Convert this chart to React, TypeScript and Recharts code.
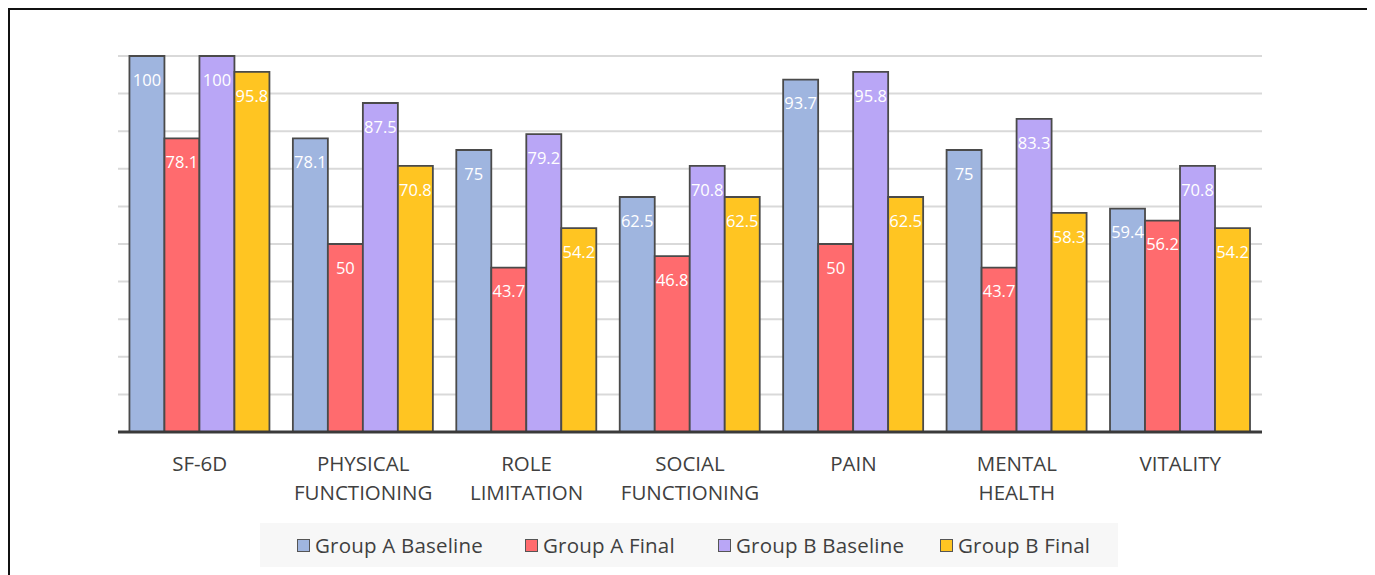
import React from 'react';
import { BarChart, Bar, XAxis, YAxis, CartesianGrid, LabelList, Legend } from 'recharts';

const categories = ['SF-6D', 'PHYSICAL FUNCTIONING', 'ROLE LIMITATION', 'SOCIAL FUNCTIONING', 'PAIN', 'MENTAL HEALTH', 'VITALITY'];
const groupABaseline = [100, 78.1, 75, 62.5, 93.7, 75, 59.4];
const groupAFinal = [78.1, 50, 43.7, 46.8, 50, 43.7, 56.2];
const groupBBaseline = [100, 87.5, 79.2, 70.8, 95.8, 83.3, 70.8];
const groupBFinal = [95.8, 70.8, 54.2, 62.5, 62.5, 58.3, 54.2];
const yTicks = [0, 10, 20, 30, 40, 50, 60, 70, 80, 90, 100];

const seriesNames = ['Group A Baseline', 'Group A Final', 'Group B Baseline', 'Group B Final'];
const seriesKeys = ['aBase', 'aFinal', 'bBase', 'bFinal'];
const seriesColors = ['#9FB5DF', '#FF6B6E', '#B9A6F6', '#FFC522'];
const legendItemWidths = [228, 193, 222, 170];

const data = categories.map((c, i) => ({
  name: c,
  aBase: groupABaseline[i],
  aFinal: groupAFinal[i],
  bBase: groupBBaseline[i],
  bFinal: groupBFinal[i],
}));

const FONT = '"Open Sans", sans-serif';

const CategoryTick = (props: any) => {
  const { x, y, payload } = props;
  const words = String(payload.value).split(' ');
  return (
    <text x={x} y={y} textAnchor="middle" fill="#404040" fontSize={20.5} fontFamily={FONT}>
      {words.map((w: string, i: number) => (
        <tspan key={i} x={x} y={y + 39 + i * 29}>{w}</tspan>
      ))}
    </text>
  );
};

const LegendContent = () => (
  <div style={{ width: 858, height: 44, margin: '0 auto', background: '#F7F7F7', display: 'flex', alignItems: 'center', paddingLeft: 37, boxSizing: 'border-box', fontFamily: FONT, fontSize: 20.5, letterSpacing: 0.2, color: '#404040' }}>
    {seriesNames.map((n, i) => (
      <div key={n} style={{ display: 'flex', alignItems: 'center', width: legendItemWidths[i], flexShrink: 0, whiteSpace: 'nowrap' }}>
        <div style={{ width: 11, height: 11, background: seriesColors[i], border: '1.5px solid #555', marginRight: 5 }} />
        <span>{n}</span>
      </div>
    ))}
  </div>
);

export default function App() {
  return (
    <div style={{ width: 1362, height: 600, border: '2px solid #111', boxSizing: 'border-box', background: '#fff' }}>
      <BarChart
        width={1358}
        height={560}
        data={data}
        margin={{ top: 46, right: 106, left: 108, bottom: 3 }}
        barCategoryGap="7%"
        barGap={0}
      >
        <CartesianGrid vertical={false} stroke="#D9D9D9" strokeWidth={2} />
        <YAxis hide domain={[0, 100]} ticks={yTicks} />
        <XAxis dataKey="name" axisLine={{ stroke: '#3A3A3A', strokeWidth: 3 }} tickLine={false} tickSize={0} tickMargin={0} height={91} interval={0} tick={<CategoryTick />} />
        <Legend verticalAlign="bottom" height={44} content={<LegendContent />} wrapperStyle={{ left: 0, width: 1358 }} />
        {seriesKeys.map((k, i) => (
          <Bar key={k} dataKey={k} name={seriesNames[i]} fill={seriesColors[i]} stroke="#4A4A4A" strokeWidth={1.8} isAnimationActive={false}>
            <LabelList dataKey={k} position="insideTop" offset={18} fill="#fff" fontSize={16.5} fontFamily={FONT} />
          </Bar>
        ))}
      </BarChart>
    </div>
  );
}
